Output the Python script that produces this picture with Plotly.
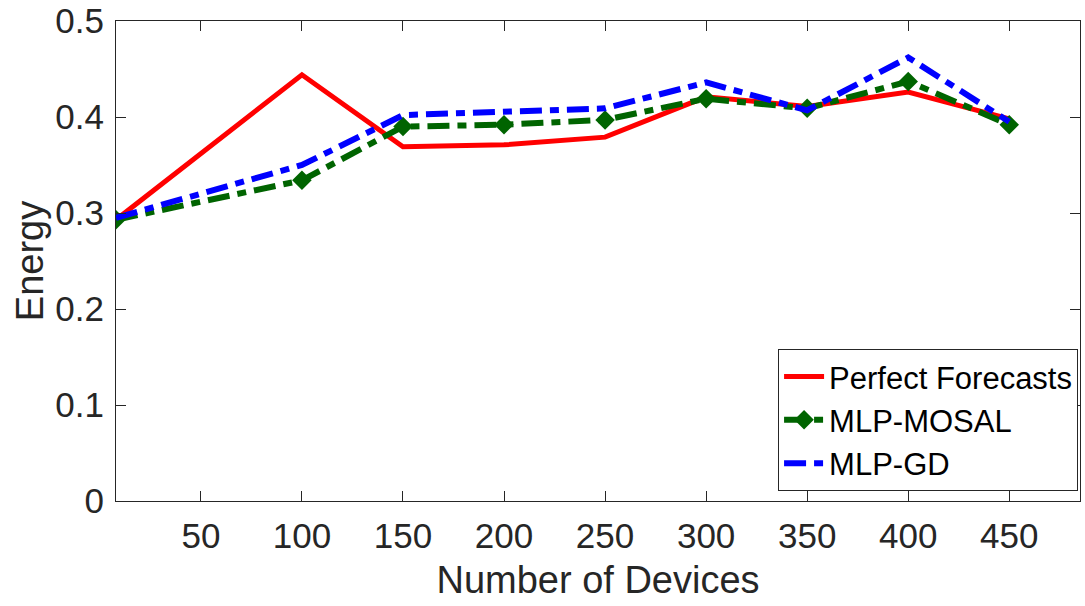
import plotly.graph_objects as go

devices = [8, 100, 150, 200, 250, 300, 350, 400, 450]
perfect = [0.293, 0.444, 0.369, 0.371, 0.379, 0.421, 0.411, 0.426, 0.398]
mosal = [0.293, 0.334, 0.390, 0.392, 0.397, 0.419, 0.409, 0.437, 0.392]
gd = [0.295, 0.350, 0.402, 0.405, 0.409, 0.436, 0.407, 0.462, 0.395]
xticks = [50, 100, 150, 200, 250, 300, 350, 400, 450]
yticks = [0, 0.1, 0.2, 0.3, 0.4, 0.5]

dd = "22px,8px,9px,8px"

fig = go.Figure()
fig.add_trace(go.Scatter(x=devices, y=perfect, mode="lines", name="Perfect Forecasts",
                         line=dict(color="#ff0000", width=5)))
fig.add_trace(go.Scatter(x=devices, y=mosal, mode="lines+markers", name="MLP-MOSAL",
                         line=dict(color="#006400", width=6, dash=dd),
                         marker=dict(symbol="diamond", size=15, color="#006400")))
fig.add_trace(go.Scatter(x=devices, y=gd, mode="lines", name="MLP-GD",
                         line=dict(color="#0000ff", width=6, dash=dd)))

axis_common = dict(showline=True, linecolor="#262626", linewidth=1, mirror="ticks",
                   ticks="inside", ticklen=10, tickcolor="#262626", showgrid=False,
                   zeroline=False, automargin=False,
                   tickfont=dict(family="Arial, Liberation Sans", size=35, color="#262626"))

fig.update_layout(
    width=1085, height=606,
    margin=dict(l=116, r=5, t=21, b=105),
    paper_bgcolor="white", plot_bgcolor="white",
    font=dict(family="Arial, Liberation Sans", color="#262626"),
    xaxis=dict(range=[8, 485], tickvals=xticks, ticktext=[str(v) for v in xticks],
               ticklabelstandoff=4,
               title=dict(text="Number of Devices", font=dict(size=38), standoff=12),
               **axis_common),
    yaxis=dict(range=[0, 0.5], tickvals=yticks, ticktext=["0", "0.1", "0.2", "0.3", "0.4", "0.5"],
               ticklabelstandoff=4,
               title=dict(text="Energy", font=dict(size=38), standoff=0),
               **axis_common),
    legend=dict(x=0.998, y=0.021, xanchor="right", yanchor="bottom",
                bordercolor="#262626", borderwidth=1, bgcolor="white",
                font=dict(size=31, color="black"), tracegroupgap=0, itemwidth=40),
    showlegend=True,
)

fig.write_html("out.html")
